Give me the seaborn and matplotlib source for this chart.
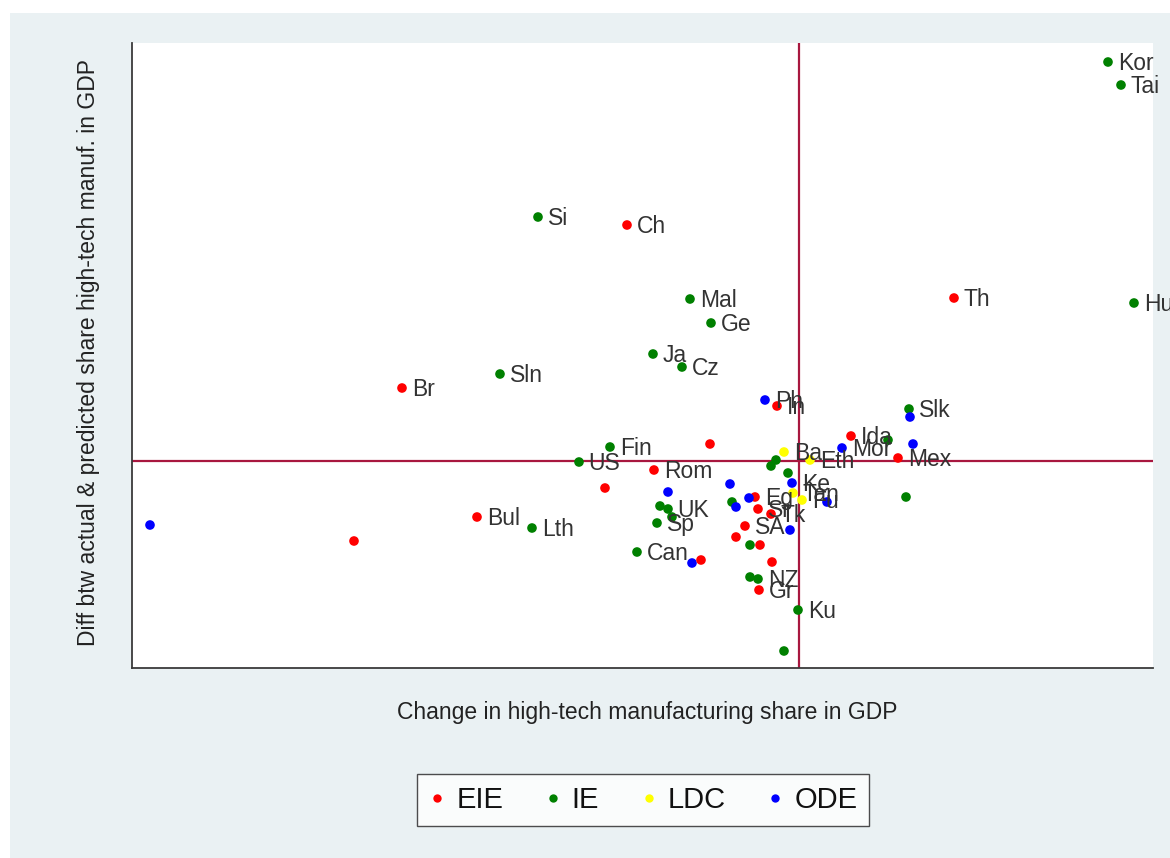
import matplotlib
matplotlib.use("Agg")
import matplotlib.pyplot as plt
from matplotlib.lines import Line2D
from matplotlib.patches import Rectangle
import seaborn as sns
import pandas as pd

# Country codes, country group and the two measures (percentage points)
labels = [
    "Kor", "Tai", "Hu", "Si", "Ch", "Mal", "Ge", "Th", "Ja", "Cz",
    "Sln", "Br", "Ph", "In", "Slk", "", "Ida", "", "Mor", "",
    "Mex", "Fin", "", "US", "Ba", "Eth", "", "", "Rom", "",
    "", "", "Ke", "Tan", "Fu", "", "Eg", "", "", "",
    "Sr", "Tk", "", "SA", "", "", "", "", "", "",
    "NZ", "", "Gr", "Ku", "", "", "", "Bul", "Lth", "",
    "UK", "", "", "Sp", "Can", "",
]
groups = [
    "IE", "IE", "IE", "IE", "EIE", "IE", "IE", "EIE", "IE", "IE",
    "IE", "EIE", "ODE", "EIE", "IE", "ODE", "EIE", "IE", "ODE", "ODE",
    "EIE", "IE", "EIE", "IE", "LDC", "LDC", "IE", "IE", "EIE", "IE",
    "EIE", "ODE", "ODE", "LDC", "LDC", "ODE", "EIE", "ODE", "IE", "ODE",
    "EIE", "EIE", "ODE", "EIE", "EIE", "IE", "EIE", "EIE", "ODE", "EIE",
    "IE", "IE", "EIE", "IE", "IE", "ODE", "EIE", "EIE", "IE", "IE",
    "IE", "IE", "ODE", "IE", "IE", "IE",
]
change_share = [
    3.09, 3.22, 3.35, -2.61, -1.72, -1.09, -0.88, 1.55, -1.46, -1.17,
    -2.99, -3.97, -0.34, -0.22, 1.10, 1.11, 0.52, 0.89, 0.43, 1.14,
    0.99, -1.89, -0.89, -2.20, -0.15, 0.11, -0.23, -0.28, -1.45, -0.11,
    -1.94, -0.69, -0.07, -0.06, 0.03, 0.28, -0.44, -0.50, -0.67, -0.63,
    -0.41, -0.28, -0.09, -0.54, -0.63, -0.49, -0.39, -0.27, -1.07, -0.98,
    -0.41, -0.49, -0.40, -0.01, -0.15, -6.49, -4.45, -3.22, -2.67, -1.39,
    -1.31, -1.27, -1.31, -1.42, -1.62, 1.07,
]
diff_share = [
    3.99, 3.76, 1.58, 2.44, 2.36, 1.62, 1.38, 1.63, 1.07, 0.94,
    0.87, 0.73, 0.61, 0.55, 0.52, 0.44, 0.25, 0.21, 0.13, 0.17,
    0.03, 0.14, 0.17, -0.01, 0.09, 0.01, 0.01, -0.05, -0.09, -0.12,
    -0.27, -0.23, -0.22, -0.32, -0.39, -0.41, -0.36, -0.37, -0.41, -0.46,
    -0.48, -0.53, -0.69, -0.65, -0.76, -0.84, -0.84, -1.01, -1.02, -0.99,
    -1.18, -1.16, -1.29, -1.49, -1.90, -0.64, -0.80, -0.56, -0.67, -0.45,
    -0.48, -0.56, -0.31, -0.62, -0.91, -0.36,
]
group_order = ["EIE", "IE", "LDC", "ODE"]
group_colors = {"EIE": "#ff0000", "IE": "#008000", "LDC": "#ffff00", "ODE": "#0000ff"}

df = pd.DataFrame({"label": labels, "group": groups,
                   "x": change_share, "y": diff_share})

W, H = 1170, 858
sns.set_theme(style="white")
plt.rcParams["font.family"] = ["Liberation Sans", "DejaVu Sans"]

fig = plt.figure(figsize=(W / 100, H / 100), dpi=100, facecolor="white")
# graph region (light bluish gray) inside a thin white margin
fig.patches.append(Rectangle((10 / W, 0), 1 - 10 / W, 1 - 13 / H,
                             transform=fig.transFigure, facecolor="#eaf1f3",
                             edgecolor="none", zorder=-10))

ax = fig.add_axes([132 / W, (H - 668) / H, (1153 - 132) / W, (668 - 43) / H])
ax.set_facecolor("white")

ax.axvline(0, color="#a8173f", lw=1.6, zorder=1)
ax.axhline(0, color="#a8173f", lw=1.6, zorder=1)

sns.scatterplot(data=df, x="x", y="y", hue="group", hue_order=group_order,
                palette=group_colors, s=48, linewidth=0, legend=False,
                ax=ax, zorder=3)

for _, r in df.iterrows():
    if r["label"]:
        ax.annotate(r["label"], (r["x"], r["y"]), xytext=(7, -1),
                    textcoords="offset points", ha="left", va="center",
                    fontsize=16.5, color="#333333", annotation_clip=False,
                    zorder=4)

ax.set_xlim(-6.67, 3.54)
ax.set_ylim(-2.07, 4.18)
ax.set_xticks([])
ax.set_yticks([])
for side in ("top", "right"):
    ax.spines[side].set_visible(False)
for side in ("left", "bottom"):
    ax.spines[side].set_color("#3a3a3a")
    ax.spines[side].set_linewidth(1.3)

ax.set_xlabel("Change in high-tech manufacturing share in GDP",
              fontsize=16.5, color="#222222")
ax.set_ylabel("Diff btw actual & predicted share high-tech manuf. in GDP",
              fontsize=16.5, color="#222222")
ax.xaxis.set_label_coords(0.505, -0.072)
ax.xaxis.label.set_va("center")
ax.yaxis.set_label_coords(-0.043, 0.505)
ax.yaxis.label.set_va("center")

handles = [Line2D([], [], marker="o", linestyle="none", markersize=6,
                  markerfacecolor=group_colors[g], markeredgewidth=0)
           for g in group_order]
leg = fig.legend(handles, group_order, loc="center",
                 bbox_to_anchor=(643 / W, (H - 800) / H), ncol=4,
                 fontsize=21, frameon=True, fancybox=False,
                 handlelength=0.6, handletextpad=0.35, columnspacing=1.4,
                 borderpad=0.4, borderaxespad=0)
leg.get_frame().set_edgecolor("#222222")
leg.get_frame().set_linewidth(1.0)
leg.get_frame().set_facecolor("white")
for t in leg.get_texts():
    t.set_color("#111111")

fig.savefig("out.png", dpi=100, facecolor=fig.get_facecolor())
